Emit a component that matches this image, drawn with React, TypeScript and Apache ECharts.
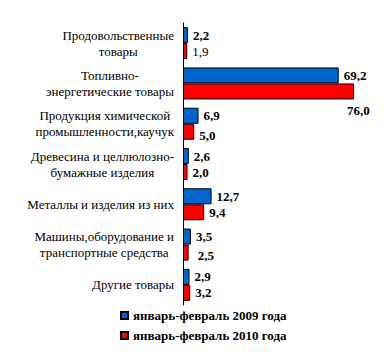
import React, { useEffect, useRef } from "react";
import * as echarts from "echarts";

const categories = [
  "Продовольственные\nтовары",
  "Топливно-\nэнергетические товары",
  "Продукция химической\nпромышленности,каучук",
  "Древесина и целлюлозно-\nбумажные изделия",
  "Металлы и изделия из них",
  "Машины,оборудование и\nтранспортные средства",
  "Другие товары",
];
const seriesNames = ["январь-февраль 2009 года", "январь-февраль 2010 года"];
const values2009 = [2.2, 69.2, 6.9, 2.6, 12.7, 3.5, 2.9];
const values2010 = [1.9, 76.0, 5.0, 2.0, 9.4, 2.5, 3.2];

const FONT = "'Liberation Serif', 'Times New Roman', serif";

export default function App() {
  const ref = useRef<HTMLDivElement>(null);
  useEffect(() => {
    if (!ref.current) return;
    const chart = echarts.init(ref.current, null, { renderer: "svg" });
    const labelBase = {
      show: true,
      position: "right",
      distance: 5,
      color: "#000",
      fontFamily: FONT,
      fontSize: 13,
      fontWeight: "bold",
      formatter: (p: any) => Number(p.value).toFixed(1).replace(".", ","),
    };
    const offsets2010: Record<number, any> = {
      0: { fontWeight: "normal" },
      1: { offset: [-12, 19] },
      2: { offset: [0, 4] },
      5: { offset: [4, 3] },
    };
    chart.setOption({
      animation: false,
      textStyle: { fontFamily: FONT },
      grid: { left: 183, top: 23, width: 180, height: 282, containLabel: false },
      xAxis: {
        type: "value",
        min: 0,
        max: 80,
        show: false,
      },
      yAxis: {
        type: "category",
        data: categories,
        inverse: true,
        axisLine: { show: true, lineStyle: { color: "#000", width: 1 } },
        axisTick: { show: false },
        axisLabel: {
          margin: 9,
          fontFamily: FONT,
          fontSize: 13,
          color: "#000",
          lineHeight: 16,
          formatter: (v: string) =>
            v
              .split("\n")
              .map((l) => `{c|${l}}`)
              .join("\n"),
          rich: {
            c: {
              align: "center",
              fontFamily: FONT,
              fontSize: 13,
              color: "#000",
              lineHeight: 16,
            },
          },
        },
      },
      legend: {
        orient: "vertical",
        left: 120,
        top: 308,
        padding: 0,
        itemWidth: 7,
        itemHeight: 7,
        itemGap: 5,
        icon: "rect",
        textStyle: {
          fontFamily: FONT,
          fontSize: 13,
          fontWeight: "bold",
          color: "#000",
          lineHeight: 15,
        },
        data: seriesNames,
      },
      series: [
        {
          name: seriesNames[0],
          type: "bar",
          barWidth: 16,
          barGap: "0%",
          itemStyle: { color: "#0066CC", borderColor: "#000", borderWidth: 1 },
          label: labelBase,
          data: values2009,
        },
        {
          name: seriesNames[1],
          type: "bar",
          barWidth: 16,
          barGap: "0%",
          itemStyle: { color: "#FF0000", borderColor: "#000", borderWidth: 1 },
          label: labelBase,
          data: values2010.map((v, i) =>
            offsets2010[i] ? { value: v, label: offsets2010[i] } : v
          ),
        },
      ],
    });
    return () => chart.dispose();
  }, []);
  return (
    <div
      ref={ref}
      style={{ position: "absolute", left: 0, top: 0, width: 384, height: 352 }}
    />
  );
}
